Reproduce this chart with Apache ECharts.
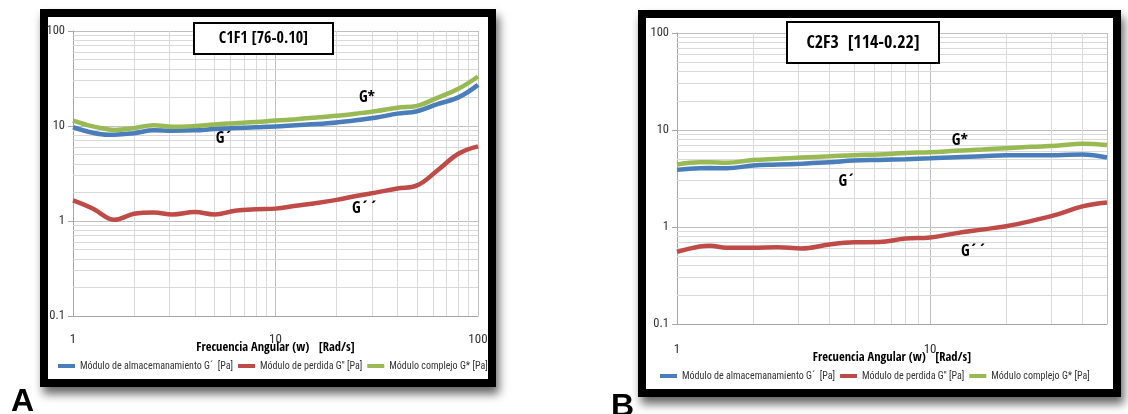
<!DOCTYPE html>
<html><head><meta charset="utf-8">
<script src="https://cdn.jsdelivr.net/npm/echarts@6/dist/echarts.min.js"></script>
<style>html,body{margin:0;padding:0;background:#fff}#c{width:1128px;height:414px}</style>
</head><body><div id="c"></div>
<script>
// ---- data ----
const freqA = [1, 1.25, 1.5, 1.6, 2, 2.5, 3.1, 4, 5, 6.3, 8, 10, 12.6, 16, 20, 25, 31.6, 40, 50, 63, 80, 100];
const gPrimeA = [9.7, 8.5, 8.1, 8.1, 8.4, 9.0, 8.9, 9.0, 9.3, 9.5, 9.7, 9.9, 10.2, 10.5, 10.9, 11.5, 12.3, 13.5, 14.3, 17.0, 20.0, 27.1];
const gDoubleA = [1.65, 1.35, 1.06, 1.03, 1.19, 1.23, 1.17, 1.24, 1.17, 1.28, 1.33, 1.35, 1.45, 1.55, 1.67, 1.83, 2.0, 2.2, 2.37, 3.4, 5.1, 6.1];
const gStarA = [11.4, 9.9, 9.2, 9.1, 9.5, 10.2, 9.8, 10.0, 10.4, 10.7, 11.0, 11.4, 11.8, 12.3, 12.8, 13.5, 14.4, 15.6, 16.3, 19.8, 24.6, 33.2];

const freqB = [1, 1.23, 1.35, 1.57, 2, 2.5, 3.1, 4, 5, 6.3, 8, 10, 12.6, 16, 20, 25, 31.6, 40, 50];
const gPrimeB = [3.88, 4.04, 4.05, 4.04, 4.3, 4.4, 4.5, 4.65, 4.84, 4.92, 5.0, 5.1, 5.25, 5.35, 5.5, 5.5, 5.5, 5.6, 5.2];
const gDoubleB = [0.553, 0.63, 0.64, 0.61, 0.61, 0.62, 0.60, 0.66, 0.695, 0.70, 0.76, 0.78, 0.86, 0.94, 1.02, 1.15, 1.34, 1.63, 1.79];
const gStarB = [4.4, 4.65, 4.65, 4.6, 4.9, 5.05, 5.2, 5.35, 5.5, 5.6, 5.8, 5.9, 6.1, 6.3, 6.5, 6.7, 6.9, 7.2, 7.0];

const seriesNames = ['Módulo de almacemanamiento G´  [Pa]', "Módulo de perdida G'' [Pa]", 'Módulo complejo G* [Pa]'];
const colors = ['#4a7ebb', '#be4b48', '#98b954'];
const titles = ['C1F1 [76-0.10]', 'C2F3  [114-0.22]'];
const xAxisTitle = 'Frecuencia Angular (w)   [Rad/s]';
const minorY = [0.2,0.3,0.4,0.5,0.6,0.7,0.8,0.9,2,3,4,5,6,7,8,9,20,30,40,50,60,70,80,90];
const minorXA = [2,3,4,5,6,7,8,9,20,30,40,50,60,70,80,90];
const minorXB = [2,3,4,5,6,7,8,9,20,30,40];
// annotation positions in data space [x, y, text]
const notesA = [[28.3, 19.7, 'G*'], [5.6, 7.3, 'G´'], [27.7, 1.34, 'G´´']];
const notesB = [[13.1, 7.7, 'G*'], [4.7, 2.9, 'G´'], [14.9, 0.55, 'G´´']];

const FONT = '"Roboto Condensed","DejaVu Sans Condensed",sans-serif';
const BFONT = '"Open Sans Condensed","Roboto Condensed",sans-serif';
const zip = (xs, ys) => xs.map((x, i) => [x, ys[i]]);

function makeAxes(gi, xmax, xLabelMargin, nameGap) {
  return {
    x: {
      type: 'log', logBase: 10, gridIndex: gi, min: 1, max: xmax,
      name: xAxisTitle, nameLocation: 'middle', nameGap: nameGap, nameMoveOverlap: false,
      nameTextStyle: {fontFamily: BFONT, fontWeight: 'bold', fontSize: 12.5, color: '#000'},
      axisLine: {show: true, lineStyle: {color: '#a6a6a6'}},
      axisTick: {show: false},
      axisLabel: {margin: xLabelMargin, fontFamily: FONT, fontSize: 13, color: '#333', showMaxLabel: xmax === 100,
        formatter: v => String(v)},
      splitLine: {show: true, lineStyle: {color: '#bfbfbf', width: 1}}
    },
    y: {
      type: 'log', logBase: 10, gridIndex: gi, min: 0.1, max: 100,
      axisLine: {show: true, lineStyle: {color: '#a6a6a6'}},
      axisTick: {show: true, length: 5, lineStyle: {color: '#a6a6a6'}},
      axisLabel: {margin: 8, fontFamily: FONT, fontSize: 12.5, color: '#333', formatter: v => String(v)},
      splitLine: {show: true, lineStyle: {color: '#bfbfbf', width: 1}}
    }
  };
}
const axA = makeAxes(0, 100, 17, 25);
const axB = makeAxes(1, 50, 19, 27);

function lineSeries(gi, name, xs, ys, color) {
  return {
    type: 'line', name, xAxisIndex: gi, yAxisIndex: gi, data: zip(xs, ys),
    smooth: 0.4, showSymbol: false, symbol: 'none', z: 5,
    lineStyle: {color, width: 4.5}, itemStyle: {color}, animation: false
  };
}
function gridHelper(gi, minorX) {
  return {
    type: 'line', xAxisIndex: gi, yAxisIndex: gi, data: [], z: 1, silent: true, animation: false,
    markLine: {
      silent: true, symbol: 'none', animation: false, label: {show: false},
      lineStyle: {color: '#d9d9d9', width: 1, type: 'solid'},
      data: minorY.map(v => ({yAxis: v})).concat(minorX.map(v => ({xAxis: v})))
    }
  };
}
function noteSeries(gi, notes) {
  return {
    type: 'scatter', xAxisIndex: gi, yAxisIndex: gi, data: [], z: 10, silent: true, animation: false,
    markPoint: {
      symbol: 'circle', symbolSize: 1, itemStyle: {color: 'rgba(0,0,0,0)'}, animation: false,
      label: {show: true, position: 'inside', formatter: p => p.name, fontFamily: BFONT, fontWeight: 'bold', fontSize: 16, color: '#000'},
      data: notes.map(n => ({name: n[2], coord: [n[0], n[1]]}))
    }
  };
}

const legendCommon = {
  data: seriesNames, icon: 'rect', itemWidth: 17, itemHeight: 4, itemGap: 5, selectedMode: false,
  textStyle: {fontFamily: FONT, fontSize: 10, color: '#333'}
};

function frame(x, y, w, h) {
  return [
    {type: 'rect', z: -20, shape: {x: x, y: y, width: w, height: h},
      style: {fill: '#000', shadowBlur: 9, shadowOffsetX: 3, shadowOffsetY: 7, shadowColor: 'rgba(0,0,0,0.6)'}},
    {type: 'rect', z: -15, shape: {x: x + 8, y: y + 8, width: w - 16, height: h - 16},
      style: {fill: '#fff'}}
  ];
}

const chart = echarts.init(document.getElementById('c'), null, {renderer: 'canvas'});
chart.setOption({
  animation: false,
  backgroundColor: '#fff',
  grid: [
    {left: 73, top: 31, width: 405, height: 285},
    {left: 677, top: 33, width: 430, height: 291}
  ],
  xAxis: [axA.x, axB.x],
  yAxis: [axA.y, axB.y],
  legend: [
    Object.assign({left: 53, top: 356}, legendCommon),
    Object.assign({left: 655, top: 366}, legendCommon)
  ],
  series: [
    gridHelper(0, minorXA), gridHelper(1, minorXB),
    lineSeries(0, seriesNames[0], freqA, gPrimeA, colors[0]),
    lineSeries(0, seriesNames[1], freqA, gDoubleA, colors[1]),
    lineSeries(0, seriesNames[2], freqA, gStarA, colors[2]),
    lineSeries(1, seriesNames[0], freqB, gPrimeB, colors[0]),
    lineSeries(1, seriesNames[1], freqB, gDoubleB, colors[1]),
    lineSeries(1, seriesNames[2], freqB, gStarB, colors[2]),
    noteSeries(0, notesA), noteSeries(1, notesB)
  ],
  graphic: frame(40, 9, 456, 378).concat(frame(638, 10, 483, 387)).concat([
    {type: 'rect', z: 100, shape: {x: 194, y: 23, width: 139, height: 31},
      style: {fill: '#fff', stroke: '#000', lineWidth: 2}},
    {type: 'text', z: 101, x: 263.5, y: 39,
      style: {text: titles[0], fontFamily: BFONT, fontWeight: 'bold', fontSize: 16, fill: '#000', align: 'center', verticalAlign: 'middle'}},
    {type: 'rect', z: 100, shape: {x: 787, y: 22, width: 152, height: 41},
      style: {fill: '#fff', stroke: '#000', lineWidth: 2}},
    {type: 'text', z: 101, x: 863, y: 43,
      style: {text: titles[1], fontFamily: BFONT, fontWeight: 'bold', fontSize: 18, fill: '#000', align: 'center', verticalAlign: 'middle'}},
    {type: 'text', z: 101, x: 11, y: 386,
      style: {text: 'A', fontFamily: '"Liberation Sans",Arial,sans-serif', fontWeight: 'bold', fontSize: 32, fill: '#000'}},
    {type: 'text', z: 101, x: 611, y: 391,
      style: {text: 'B', fontFamily: '"Liberation Sans",Arial,sans-serif', fontWeight: 'bold', fontSize: 32, fill: '#000'}}
  ])
});
</script></body></html>
